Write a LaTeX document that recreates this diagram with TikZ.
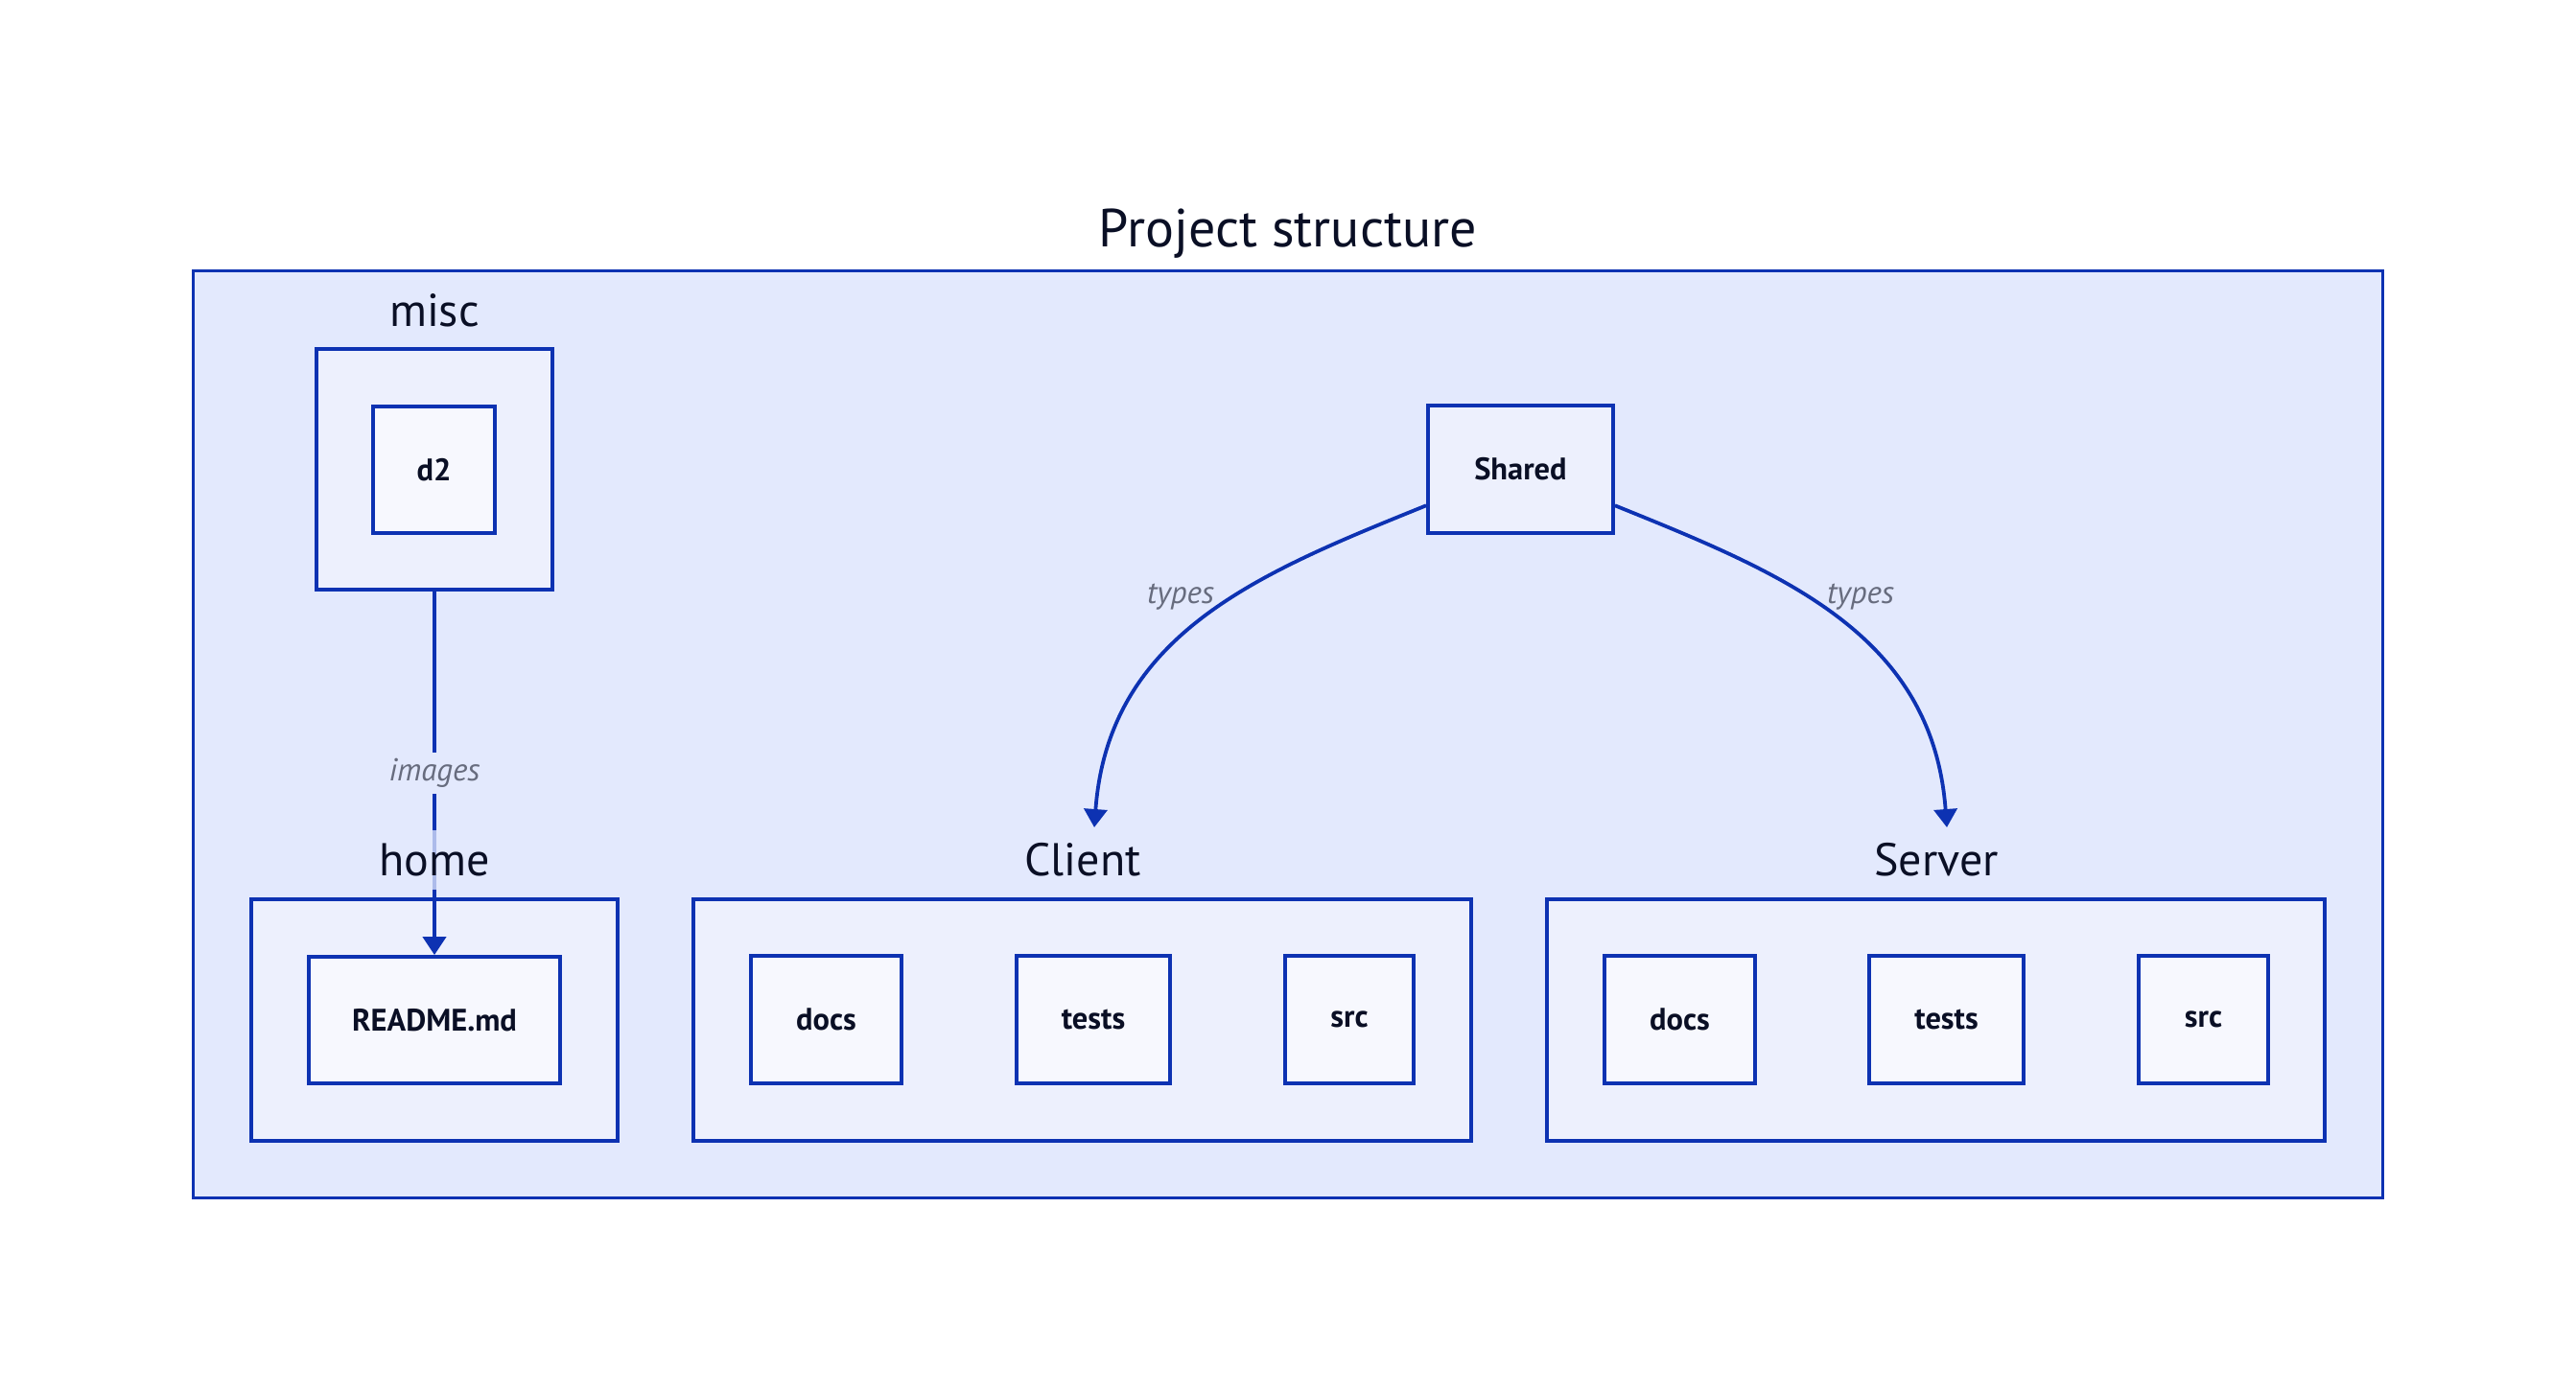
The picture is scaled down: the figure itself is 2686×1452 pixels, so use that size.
\documentclass[tikz,border=0pt]{standalone}
\usepackage{fontspec}
\setmainfont{PT Sans}
\usetikzlibrary{arrows.meta}
\definecolor{strokeB}{HTML}{0D32B2}
\definecolor{fillBa}{HTML}{E3E9FD}
\definecolor{fillBb}{HTML}{EDF0FD}
\definecolor{fillBc}{HTML}{F7F8FE}
\definecolor{textNa}{HTML}{0A0F25}
\definecolor{textNb}{HTML}{676C7E}
\tikzset{
  boxbase/.style={draw=strokeB,line width=3.8pt,inner sep=0pt,text=textNa},
  outerbox/.style={boxbase,fill=fillBa},
  contbox/.style={boxbase,fill=fillBb},
  leafbox/.style={boxbase,fill=fillBc,font=\fontsize{32.5}{38}\selectfont\bfseries},
  midbox/.style={boxbase,fill=fillBb,font=\fontsize{32.5}{38}\selectfont\bfseries},
  contlabel/.style={text=textNa,font=\fontsize{48}{56}\selectfont,inner sep=0pt},
  titlelabel/.style={text=textNa,font=\fontsize{56}{66}\selectfont,inner sep=0pt},
  edgelabel/.style={text=textNb,font=\fontsize{33}{39}\selectfont\itshape,inner xsep=6pt,inner ysep=0pt},
  edge/.style={draw=strokeB,line width=3.8pt,-{Triangle[width=24pt,length=19pt]}},
}
\begin{document}
\begin{tikzpicture}[x=1pt,y=-1pt]
\useasboundingbox[fill=white] (0,0) rectangle (2686,1452);
% outer container
\node[outerbox,minimum width=2283pt,minimum height=967pt] (proj) at (1343,766) {};
\node[titlelabel,anchor=base] (projlbl) at (1343,257) {Project structure};
% misc
\node[contbox,minimum width=246pt,minimum height=251pt] (misc) at (453,489.5) {};
\node[contlabel,anchor=base] (misclbl) at (453,340) {misc};
\node[leafbox,minimum width=127pt,minimum height=132pt] (d2) at (452.5,490) {d2};
% home
\node[contbox,minimum width=382pt,minimum height=252pt] (home) at (453,1064) {};
\node[leafbox,minimum width=262pt,minimum height=132pt] (readme) at (453,1064) {README.md};
% Client
\node[contbox,minimum width=811pt,minimum height=252pt] (client) at (1128.5,1064) {};
\node[leafbox,minimum width=157pt,minimum height=133pt] (cdocs) at (861.5,1063.5) {docs};
\node[leafbox,minimum width=160pt,minimum height=133pt] (ctests) at (1140,1063.5) {tests};
\node[leafbox,minimum width=134pt,minimum height=133pt] (csrc) at (1407,1063.5) {src};
% Server
\node[contbox,minimum width=811pt,minimum height=252pt] (server) at (2018.5,1064) {};
\node[leafbox,minimum width=157pt,minimum height=133pt] (sdocs) at (1751.5,1063.5) {docs};
\node[leafbox,minimum width=161pt,minimum height=133pt] (stests) at (2029.5,1063.5) {tests};
\node[leafbox,minimum width=135pt,minimum height=133pt] (ssrc) at (2297.5,1063.5) {src};
% Shared
\node[midbox,minimum width=193pt,minimum height=133pt] (shared) at (1585.5,489.5) {Shared};
% edges
\coordinate (ctip) at (1141,863);
\coordinate (stip) at (2030,863);
\draw[edge] (misc.south) -- (readme.north);
\draw[edge] (shared.201) .. controls (1315,597) and (1156,660) .. (ctip);
\draw[edge] (shared.339) .. controls (1856,597) and (2015,660) .. (stip);
% labels over edges
\node[edgelabel,fill=fillBa,minimum height=43pt] (imglbl) at (453,806) {images};
\node[edgelabel] (typesl) at (1231,623) {types};
\node[edgelabel] (typesr) at (1940,623) {types};
\node[contlabel,fill=fillBa,fill opacity=0.75,text opacity=1,minimum height=62pt,inner xsep=4pt] (homelbl) at (453,897) {home};
\node[contlabel,anchor=base] (clientlbl) at (1129,913) {Client};
\node[contlabel,anchor=base] (serverlbl) at (2019,913) {Server};
\end{tikzpicture}
\end{document}
